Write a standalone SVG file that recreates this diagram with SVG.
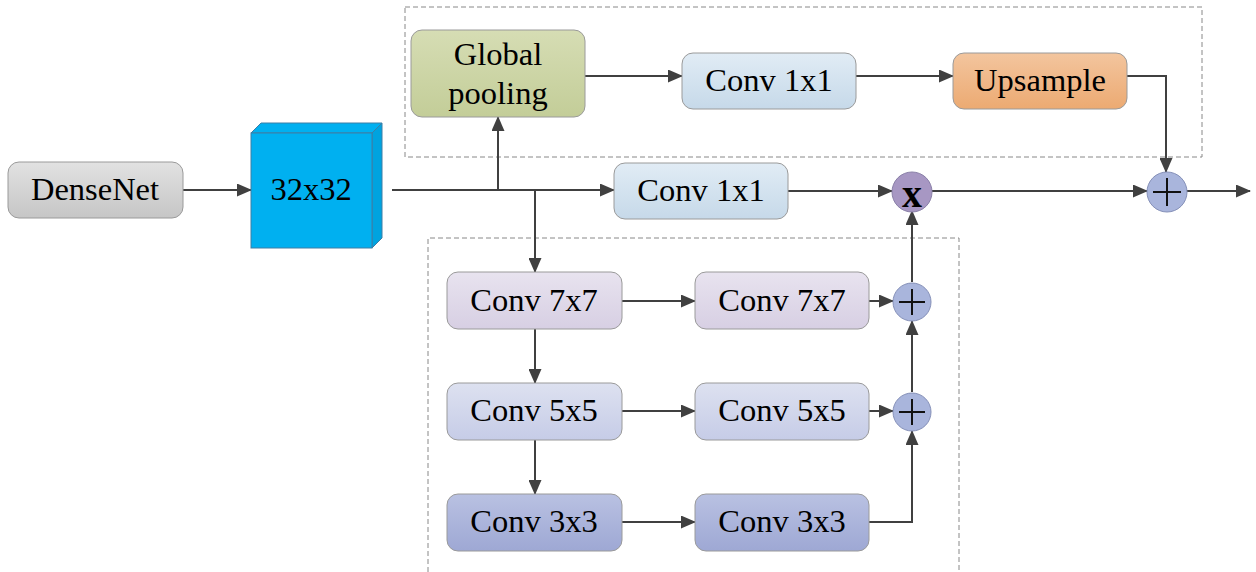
<svg xmlns="http://www.w3.org/2000/svg" width="1256" height="572" viewBox="0 0 1256 572">
<defs>
<linearGradient id="gGray" x1="0" y1="0" x2="0" y2="1"><stop offset="0" stop-color="#e2e2e2"/><stop offset="1" stop-color="#c6c6c6"/></linearGradient>
<linearGradient id="gOlive" x1="0" y1="0" x2="0" y2="1"><stop offset="0" stop-color="#d6ddb4"/><stop offset="1" stop-color="#c3cd98"/></linearGradient>
<linearGradient id="gBlue" x1="0" y1="0" x2="0" y2="1"><stop offset="0" stop-color="#e1ecf5"/><stop offset="1" stop-color="#c6d9e9"/></linearGradient>
<linearGradient id="gOrange" x1="0" y1="0" x2="0" y2="1"><stop offset="0" stop-color="#f3c59e"/><stop offset="1" stop-color="#ecaa72"/></linearGradient>
<linearGradient id="g7" x1="0" y1="0" x2="0" y2="1"><stop offset="0" stop-color="#e8e3ef"/><stop offset="1" stop-color="#d7cfe3"/></linearGradient>
<linearGradient id="g5" x1="0" y1="0" x2="0" y2="1"><stop offset="0" stop-color="#dde1f0"/><stop offset="1" stop-color="#c6cce7"/></linearGradient>
<linearGradient id="g3" x1="0" y1="0" x2="0" y2="1"><stop offset="0" stop-color="#b9c1e2"/><stop offset="1" stop-color="#9ea8d4"/></linearGradient>
<marker id="arr" markerWidth="15" markerHeight="13" refX="14" refY="6.5" orient="auto" markerUnits="userSpaceOnUse"><path d="M0,0 L15,6.5 L0,13 z" fill="#404040"/></marker>
<style>
.box{stroke:#9a9a9a;stroke-width:1}
.t{font-family:"Liberation Serif","Times New Roman",serif;font-size:32.5px;fill:#000;text-anchor:middle;dominant-baseline:central}
.c{fill:none;stroke:#404040;stroke-width:2}
.dash{fill:none;stroke:#888;stroke-width:1;stroke-dasharray:5,3}
.sym{stroke:#111;stroke-width:2;fill:none}
</style>
</defs>
<rect class="dash" x="405" y="7" width="797" height="150"/>
<path class="dash" d="M428,572 V238 H959 V572"/>
<g id="connectors">
<path class="c" d="M183,190 H251" marker-end="url(#arr)"/>
<path class="c" d="M392,190 H614" marker-end="url(#arr)"/>
<path class="c" d="M498,190 V117" marker-end="url(#arr)"/>
<path class="c" d="M535,190 V272" marker-end="url(#arr)"/>
<path class="c" d="M585,76 H682" marker-end="url(#arr)"/>
<path class="c" d="M856,76 H953" marker-end="url(#arr)"/>
<path class="c" d="M1127,76 H1166 V172" marker-end="url(#arr)"/>
<path class="c" d="M788,191 H892" marker-end="url(#arr)"/>
<path class="c" d="M932,191 H1147" marker-end="url(#arr)"/>
<path class="c" d="M1186,191 H1250" marker-end="url(#arr)"/>
<path class="c" d="M622,301 H695" marker-end="url(#arr)"/>
<path class="c" d="M622,411 H695" marker-end="url(#arr)"/>
<path class="c" d="M622,522 H695" marker-end="url(#arr)"/>
<path class="c" d="M869,301 H893" marker-end="url(#arr)"/>
<path class="c" d="M869,411 H893" marker-end="url(#arr)"/>
<path class="c" d="M535,329 V383" marker-end="url(#arr)"/>
<path class="c" d="M535,440 V494" marker-end="url(#arr)"/>
<path class="c" d="M869,522 H912 V431" marker-end="url(#arr)"/>
<path class="c" d="M912,392 V321" marker-end="url(#arr)"/>
<path class="c" d="M912,282 V211" marker-end="url(#arr)"/>
</g>
<g id="densenet"><rect class="box" x="8" y="162" width="175" height="56" rx="11" fill="url(#gGray)"/><text class="t" x="95" y="189">DenseNet</text></g>
<g id="cube">
<path d="M251,133 L261,123 L382,123 L372,133 z" fill="#00b0f0" stroke="#3d7ea6" stroke-width="1"/>
<path d="M372,133 L382,123 L382,238 L372,248 z" fill="#00a3df" stroke="#3d7ea6" stroke-width="1"/>
<rect x="251" y="133" width="121" height="115" fill="#00b0f0" stroke="#3d7ea6" stroke-width="1"/>
<text class="t" x="311" y="189">32x32</text></g>
<g id="globalpool"><rect class="box" x="411" y="30" width="174" height="87" rx="11" fill="url(#gOlive)"/><text class="t" x="498" y="54">Global</text><text class="t" x="498" y="93">pooling</text></g>
<g id="conv1x1top"><rect class="box" x="682" y="53" width="174" height="56" rx="11" fill="url(#gBlue)"/><text class="t" x="769" y="80">Conv 1x1</text></g>
<g id="upsample"><rect class="box" x="953" y="53" width="174" height="56" rx="11" fill="url(#gOrange)"/><text class="t" x="1040" y="80">Upsample</text></g>
<g id="conv1x1mid"><rect class="box" x="614" y="163" width="174" height="56" rx="11" fill="url(#gBlue)"/><text class="t" x="701" y="190">Conv 1x1</text></g>
<g id="mul"><circle cx="912" cy="192" r="20" fill="#a797c3" stroke="#8a80a8" stroke-width="1"/><text x="912" y="193" font-family="Liberation Serif,serif" font-size="40" font-weight="bold" text-anchor="middle" dominant-baseline="central">x</text></g>
<g id="addout"><circle cx="1167" cy="192" r="20" fill="#a9b5dc" stroke="#8590b8" stroke-width="1"/><path class="sym" d="M1153,192 H1181 M1167,178 V206"/></g>
<g id="c7a"><rect class="box" x="447" y="272" width="175" height="57" rx="11" fill="url(#g7)"/><text class="t" x="534" y="300">Conv 7x7</text></g>
<g id="c7b"><rect class="box" x="695" y="272" width="174" height="57" rx="11" fill="url(#g7)"/><text class="t" x="782" y="300">Conv 7x7</text></g>
<g id="c5a"><rect class="box" x="447" y="383" width="175" height="57" rx="11" fill="url(#g5)"/><text class="t" x="534" y="410">Conv 5x5</text></g>
<g id="c5b"><rect class="box" x="695" y="383" width="174" height="57" rx="11" fill="url(#g5)"/><text class="t" x="782" y="410">Conv 5x5</text></g>
<g id="c3a"><rect class="box" x="447" y="494" width="175" height="57" rx="11" fill="url(#g3)"/><text class="t" x="534" y="521">Conv 3x3</text></g>
<g id="c3b"><rect class="box" x="695" y="494" width="174" height="57" rx="11" fill="url(#g3)"/><text class="t" x="782" y="521">Conv 3x3</text></g>
<g id="add1"><circle cx="912" cy="302" r="19" fill="#a9b5dc" stroke="#8590b8" stroke-width="1"/><path class="sym" d="M899,302 H925 M912,289 V315"/></g>
<g id="add2"><circle cx="912" cy="412" r="19" fill="#a9b5dc" stroke="#8590b8" stroke-width="1"/><path class="sym" d="M899,412 H925 M912,399 V425"/></g>
</svg>
